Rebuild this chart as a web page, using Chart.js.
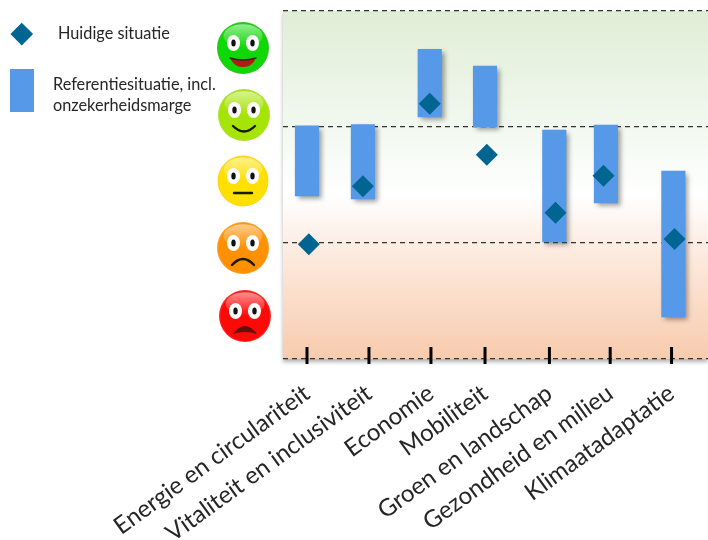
<!DOCTYPE html>
<html lang="nl">
<head>
<meta charset="UTF-8">
<script src="https://cdn.jsdelivr.net/npm/chart.js"></script>
<style>
  body { margin: 0; background: #fff; }
  #wrap { position: relative; width: 708px; height: 540px; overflow: hidden; font-family: Lato, sans-serif; color: #262626; }
  #myChart { position: absolute; left: 0; top: 0; }
  .txt { position: absolute; font-size: 16.3px; line-height: 21px; white-space: pre; }
  #legDiamond { position: absolute; left: 13.5px; top: 25.5px; width: 15.5px; height: 15.5px; background: #006590; transform: rotate(45deg); }
  #legBar { position: absolute; left: 10px; top: 69px; width: 24px; height: 43px; background: #5699e8; }
</style>
</head>
<body>
<div id="wrap">
  <canvas id="myChart" width="708" height="540"></canvas>
  <div id="legDiamond"></div>
  <div id="legBar"></div>
  <div class="txt" id="legA" style="left:58px;top:22px"></div>
  <div class="txt" id="legB" style="left:53px;top:73px"></div>
</div>
<script>
// data, y axis: 0 = bottom line, 3 = top line
const categories = ['Energie en circulariteit', 'Vitaliteit en inclusiviteit', 'Economie', 'Mobiliteit', 'Groen en landschap', 'Gezondheid en milieu', 'Klimaatadaptatie']
const tickX = [0, 1.02, 2.04, 2.93, 3.99, 4.99, 6.0]
const barX = [0, 0.92, 2.02, 2.93, 4.07, 4.92, 6.03]
const barLow = [1.405, 1.38, 2.086, 2.0, 1.01, 1.345, 0.362]
const barHigh = [2.01, 2.02, 2.67, 2.526, 1.974, 2.017, 1.62]
const pointX = [0.03, 0.92, 2.02, 2.96, 4.09, 4.88, 6.05]
const pointY = [0.99, 1.49, 2.2, 1.76, 1.26, 1.58, 1.034]
const seriesNames = ['Huidige situatie', 'Referentiesituatie, incl.\nonzekerheidsmarge']

document.getElementById('legA').textContent = seriesNames[0]
document.getElementById('legB').textContent = seriesNames[1]

// plot background
const bgPlugin = {
  id: 'bg',
  beforeDraw(chart) {
    const { ctx, chartArea: a } = chart
    const g = ctx.createLinearGradient(0, a.top, 0, a.bottom)
    g.addColorStop(0, '#dfedd6')
    g.addColorStop(0.33, '#f2f8ef')
    g.addColorStop(0.53, '#ffffff')
    g.addColorStop(0.66, '#fdeee5')
    g.addColorStop(1, '#f8cbad')
    ctx.save()
    ctx.shadowColor = 'rgba(0,0,0,0.3)'
    ctx.shadowBlur = 4
    ctx.shadowOffsetY = 3
    ctx.fillStyle = g
    ctx.fillRect(a.left, a.top, a.right - a.left, a.bottom - a.top)
    ctx.restore()
    drawFaces(ctx)
  }
}

// soft shadow under the bars only
const shadowPlugin = {
  id: 'barShadow',
  beforeDatasetDraw(chart, args) {
    if (args.index !== 0) return
    const ctx = chart.ctx
    ctx.save()
    ctx.shadowColor = 'rgba(0,0,0,0.4)'
    ctx.shadowBlur = 5
    ctx.shadowOffsetX = 3
    ctx.shadowOffsetY = 3
  },
  afterDatasetDraw(chart, args) {
    if (args.index === 0) chart.ctx.restore()
  }
}

// thick tick marks crossing the bottom line
const tickPlugin = {
  id: 'bigTicks',
  afterDatasetsDraw(chart) {
    const { ctx, scales } = chart
    ctx.save()
    ctx.fillStyle = '#000'
    scales.x.ticks.forEach(t => {
      const px = scales.x.getPixelForValue(t.value)
      ctx.fillRect(px - 1.5, 347, 3, 17)
    })
    ctx.restore()
  }
}

function drawFaces(ctx) {
  face(ctx, 243, 48, 26, '#10d808', '#30c020', 'open')
  face(ctx, 244, 115, 26, '#a6e408', '#b0dc40', 'smile')
  face(ctx, 243, 181, 25.5, '#ffe000', '#ffd020', 'flat')
  face(ctx, 243, 248, 26, '#ff9000', '#ffa030', 'frown')
  face(ctx, 245, 316, 26, '#ff0808', '#ff3030', 'sad')
}

function face(ctx, x, y, r, light, dark, mouth) {
  ctx.save()
  const g = ctx.createRadialGradient(x, y + 4, r * 0.2, x, y, r)
  g.addColorStop(0, light)
  g.addColorStop(0.9, light)
  g.addColorStop(1, dark)
  ctx.fillStyle = g
  ctx.beginPath(); ctx.arc(x, y, r, 0, Math.PI * 2); ctx.fill()
  // glossy top
  const gloss = ctx.createLinearGradient(0, y - r, 0, y)
  gloss.addColorStop(0, 'rgba(255,255,255,0.6)')
  gloss.addColorStop(1, 'rgba(255,255,255,0)')
  ctx.fillStyle = gloss
  ctx.beginPath(); ctx.ellipse(x, y - 12, r * 0.75, r * 0.45, 0, 0, Math.PI * 2); ctx.fill()
  // eyes
  ;[-9.5, 9.5].forEach(dx => {
    ctx.fillStyle = '#fff'
    ctx.beginPath(); ctx.ellipse(x + dx, y - 5, 6.5, 8, 0, 0, Math.PI * 2); ctx.fill()
    ctx.fillStyle = '#111'
    ctx.beginPath(); ctx.ellipse(x + dx, y - 5, 2.2, 3.6, 0, 0, Math.PI * 2); ctx.fill()
  })
  ctx.strokeStyle = '#1a1a00'
  ctx.lineWidth = 2.4
  ctx.lineCap = 'round'
  ctx.beginPath()
  if (mouth === 'open') {
    ctx.moveTo(x - 13, y + 10)
    ctx.quadraticCurveTo(x, y + 14, x + 13, y + 10)
    ctx.quadraticCurveTo(x + 9, y + 19, x, y + 19)
    ctx.quadraticCurveTo(x - 9, y + 19, x - 13, y + 10)
    ctx.fillStyle = '#b01c14'
    ctx.fill()
    ctx.lineWidth = 1.4
    ctx.strokeStyle = '#2a2a10'
    ctx.beginPath()
    ctx.moveTo(x - 13, y + 10)
    ctx.quadraticCurveTo(x, y + 14, x + 13, y + 10)
    ctx.stroke()
  } else if (mouth === 'smile') {
    ctx.moveTo(x - 11, y + 11)
    ctx.quadraticCurveTo(x, y + 22, x + 11, y + 11)
    ctx.stroke()
  } else if (mouth === 'flat') {
    ctx.moveTo(x - 9, y + 12)
    ctx.lineTo(x + 9, y + 12)
    ctx.stroke()
  } else if (mouth === 'frown') {
    ctx.moveTo(x - 11, y + 17)
    ctx.quadraticCurveTo(x, y + 5, x + 11, y + 17)
    ctx.stroke()
  } else {
    ctx.moveTo(x - 12, y + 18)
    ctx.quadraticCurveTo(x, y + 2, x + 12, y + 18)
    ctx.quadraticCurveTo(x, y + 14, x - 12, y + 18)
    ctx.fillStyle = '#5a1408'
    ctx.fill()
  }
  ctx.restore()
}

new Chart(document.getElementById('myChart'), {
  type: 'bar',
  data: {
    datasets: [{
      label: seriesNames[1],
      data: barX.map((x, i) => ({ x: x, y: [barLow[i], barHigh[i]] })),
      backgroundColor: '#5699e8',
      barThickness: 23.5,
      grouped: false,
      order: 2
    }, {
      type: 'scatter',
      label: seriesNames[0],
      data: pointX.map((x, i) => ({ x: x, y: pointY[i] })),
      pointStyle: 'rectRot',
      pointRadius: 11,
      pointHoverRadius: 11,
      backgroundColor: '#006590',
      borderWidth: 0,
      order: 1
    }]
  },
  options: {
    responsive: false,
    animation: false,
    layout: { autoPadding: false, padding: { left: 283, top: 11, right: 0, bottom: 0 } },
    plugins: { legend: { display: false }, tooltip: { enabled: false } },
    scales: {
      x: {
        type: 'linear',
        offset: false,
        min: -0.395,
        max: 6.6,
        grid: { display: false },
        border: { display: false },
        afterBuildTicks(scale) { scale.ticks = tickX.map(v => ({ value: v })) },
        afterFit(scale) { scale.height = 181; scale.paddingRight = 0 },
        ticks: {
          autoSkip: false,
          minRotation: 36,
          maxRotation: 36,
          padding: 12,
          color: '#262626',
          font: { family: 'Lato', size: 24 },
          callback(value) { return categories[tickX.indexOf(value)] }
        }
      },
      y: {
        min: 0,
        max: 3,
        afterFit(scale) { scale.width = 0 },
        afterBuildTicks(scale) { scale.ticks = [0, 1, 2, 3].map(v => ({ value: v })) },
        ticks: { display: false },
        border: { display: false, dash: [5, 4] },
        grid: { color: '#333', lineWidth: 1.3, drawTicks: false }
      }
    }
  },
  plugins: [bgPlugin, shadowPlugin, tickPlugin]
})
</script>
</body>
</html>
